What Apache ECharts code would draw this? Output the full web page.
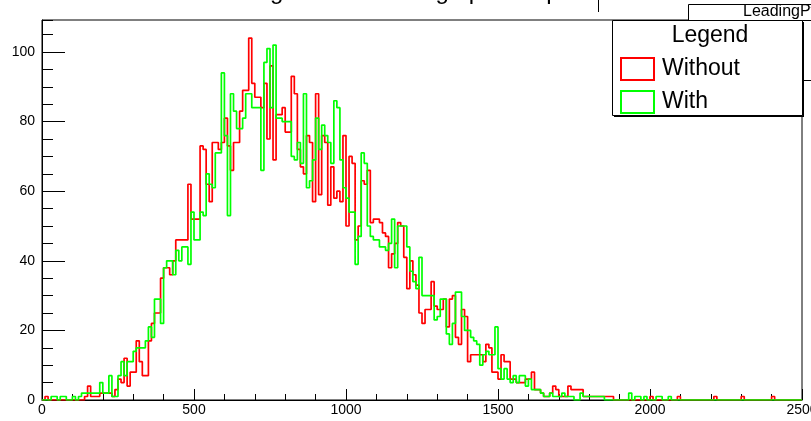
<!DOCTYPE html>
<html>
<head>
<meta charset="utf-8">
<script src="https://cdn.jsdelivr.net/npm/echarts@6/dist/echarts.min.js"></script>
<style>
html,body{margin:0;padding:0;background:#fff;}
#c{width:811px;height:421px;}
</style>
</head>
<body>
<div id="c"></div>
<script>
// Histogram: 250 bins of width 10 from 0 to 2500
const BIN_WIDTH = 10;
const X_MIN = 0, X_MAX = 2500;
const xTicks = [0, 500, 1000, 1500, 2000, 2500];
const yTicks = [0, 20, 40, 60, 80, 100];
const seriesNames = ['Without', 'With'];

// Counts per bin (red, "Without")
const withoutCounts = [
  0,1,0,0,0,0,0,0,0,0, 0,0,0,0,1,4,1,1,1,2,
  2,2,2,1,3,6,5,12,4,8, 8,17,11,7,7,17,22,25,25,35,
  38,38,36,40,46,46,46,46,62,52, 52,52,73,72,62,57,74,74,72,74,
  81,73,66,74,74,83,89,89,104,91, 87,87,84,91,75,96,69,82,82,84,
  77,77,93,88,72,67,65,76,74,57, 88,59,76,74,56,67,58,60,57,76,
  50,70,68,46,50,63,62,66,51,52, 52,51,48,47,38,42,45,51,50,41,
  32,40,36,33,25,22,26,26,34,27, 26,26,29,21,29,30,18,16,26,24,
  11,13,13,13,13,11,16,15,8,8, 6,13,11,11,6,6,5,5,5,6,
  6,8,3,3,2,1,1,2,4,3, 1,1,1,4,3,3,3,3,1,1,
  1,1,1,1,1,1,1,1,0,0, 0,0,0,0,0,0,0,0,0,0,
  1,0,0,0,0,0,0,0,0,1, 0,0,0,0,0,0,0,0,0,0,
  0,1,0,0,0,0,0,0,0,0, 1,0,0,0,0,0,0,0,0,0,
  1,0,0,0,0,0,0,0,0,0
];

// Counts per bin (green, "With")
const withCounts = [
  0,0,0,1,1,0,1,1,0,0, 1,0,1,2,2,2,2,2,2,5,
  2,2,7,1,1,7,11,7,11,11, 14,15,15,15,17,21,18,29,29,22,
  38,40,40,36,43,40,44,44,39,54, 46,46,54,53,65,62,61,71,71,94,
  76,53,88,83,78,78,81,88,88,84, 84,84,66,97,101,84,102,81,81,80,
  80,80,70,69,74,68,88,61,63,69, 81,72,79,76,74,68,86,84,69,61,
  58,54,54,39,47,71,68,50,47,46, 46,44,44,43,45,52,38,50,50,50,
  44,37,34,32,41,30,30,30,30,23, 24,29,29,19,16,22,31,31,24,20,
  20,18,17,16,10,13,14,13,13,21, 9,6,9,6,5,7,5,7,7,4,
  6,3,3,3,2,1,1,2,1,1, 1,2,1,1,1,0,0,2,1,1,
  1,1,1,1,1,0,0,0,0,0, 0,0,0,2,0,1,1,0,1,0,
  0,0,1,1,0,0,1,0,0,0, 0,0,0,0,0,0,0,0,0,0,
  0,0,0,0,0,0,0,0,0,0, 0,0,0,0,0,0,0,0,0,0,
  0,0,0,0,0,0,0,0,0,0
];

function toSteps(counts) {
  const pts = counts.map((v, i) => [X_MIN + i * BIN_WIDTH, v]);
  pts.push([X_MIN + counts.length * BIN_WIDTH, counts[counts.length - 1]]);
  return pts;
}

const FONT = 'Liberation Sans, Arial, sans-serif';
const chart = echarts.init(document.getElementById('c'), null, {renderer: 'canvas'});

const Y_MAX = 109.2;

chart.setOption({
  animation: false,
  backgroundColor: '#ffffff',
  grid: {left: 42, right: 9, top: 20, bottom: 21, outerBoundsMode: 'none', containLabel: false,
    show: true, borderColor: '#000', borderWidth: 1, backgroundColor: 'transparent'},
  xAxis: {
    type: 'value', min: X_MIN, max: X_MAX, interval: 500,
    axisLine: {onZero: false, lineStyle: {color: '#000', width: 1}},
    axisTick: {inside: true, length: 11, lineStyle: {color: '#000', width: 1}},
    minorTick: {show: true, splitNumber: 5, length: 6, lineStyle: {color: '#000', width: 1}},
    axisLabel: {margin: 3, fontSize: 14, color: '#000', fontFamily: FONT,
      customValues: xTicks, formatter: v => String(v), alignMinLabel: 'center', alignMaxLabel: 'center'},
    splitLine: {show: false}
  },
  yAxis: [{
    type: 'value', min: 0, max: Y_MAX, interval: 20,
    axisLine: {show: true, lineStyle: {color: '#000', width: 1}},
    axisTick: {inside: true, length: 23, lineStyle: {color: '#000', width: 1}, customValues: yTicks},
    axisLabel: {margin: 7, fontSize: 14, color: '#000', fontFamily: FONT, customValues: yTicks, formatter: v => String(v)},
    splitLine: {show: false}
  }, {
    type: 'value', min: 0, max: Y_MAX, interval: 5, position: 'left',
    axisLine: {show: false},
    axisTick: {inside: true, length: 11, lineStyle: {color: '#000', width: 1}},
    axisLabel: {show: false},
    splitLine: {show: false}
  }],
  legend: {
    z: 200,
    orient: 'vertical', left: 620, top: 57, padding: 0,
    itemWidth: 33, itemHeight: 22, itemGap: 9,
    textStyle: {fontSize: 23, color: '#000', fontFamily: FONT, padding: [0, 0, 0, 3]},
    data: [
      {name: seriesNames[0], icon: 'rect', itemStyle: {color: '#fff', borderColor: '#ff0000', borderWidth: 2}},
      {name: seriesNames[1], icon: 'rect', itemStyle: {color: '#fff', borderColor: '#00ff00', borderWidth: 2}}
    ]
  },
  graphic: [
    // title, clipped by the top edge (only descenders remain visible)
    {type: 'text', z: 10, x: 198, y: 4, style: {text: 'Leading Hit Total Charge per Step', fontSize: 24, fill: '#000', fontFamily: FONT, textAlign: 'left', textVerticalAlign: 'bottom'}},
    {type: 'line', z: 10, shape: {x1: 598.5, y1: 0, x2: 598.5, y2: 12}, style: {stroke: '#000', lineWidth: 1}},
    // stats box (mostly hidden behind legend)
    {type: 'rect', z: 1, shape: {x: 688.5, y: 4.5, width: 140, height: 76}, style: {fill: '#fff', stroke: '#000', lineWidth: 1}},
    {type: 'line', z: 1, shape: {x1: 688, y1: 20.5, x2: 830, y2: 20.5}, style: {stroke: '#000', lineWidth: 1}},
    {type: 'text', z: 2, x: 743, y: 4, style: {text: 'LeadingPt', fontSize: 16, fill: '#000', fontFamily: FONT}},
    // legend box with shadow
    {type: 'rect', z: 3, shape: {x: 614, y: 22, width: 190, height: 95}, style: {fill: '#000'}},
    {type: 'rect', z: 3, shape: {x: 612.5, y: 20.5, width: 190, height: 95}, style: {fill: '#fff', stroke: '#000', lineWidth: 1}},
    {type: 'text', z: 4, x: 710, y: 36, style: {text: 'Legend', fontSize: 23, fill: '#000', fontFamily: FONT, textAlign: 'center', textVerticalAlign: 'middle'}}
  ],
  series: [
    {name: seriesNames[0], type: 'line', step: 'end', showSymbol: false, z: 3,
      lineStyle: {color: '#ff0000', width: 1.7}, itemStyle: {color: '#ff0000'},
      data: toSteps(withoutCounts)},
    {name: seriesNames[1], type: 'line', step: 'end', showSymbol: false, z: 4,
      lineStyle: {color: '#00ff00', width: 1.7}, itemStyle: {color: '#00ff00'},
      data: toSteps(withCounts)}
  ]
});
</script>
</body>
</html>
